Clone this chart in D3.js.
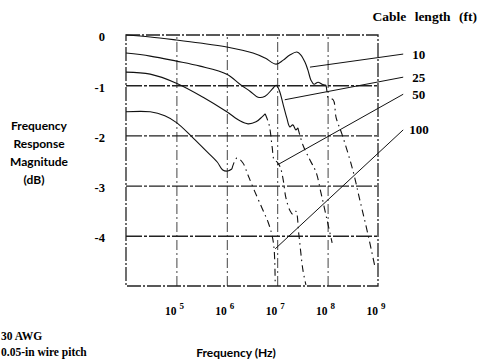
<!DOCTYPE html>
<html>
<head>
<meta charset="utf-8">
<script src="https://cdn.jsdelivr.net/npm/d3@7"></script>
<style>
  body { margin: 0; background: #fff; }
</style>
</head>
<body>
<script>
// ticks
const freqTicks = [1e5, 1e6, 1e7, 1e8, 1e9];
const freqExp = ["5", "6", "7", "8", "9"];
const dbTicks = [0, -1, -2, -3, -4];
const dbLabels = ["0", "-1", "-2", "-3", "-4"];
const cableLengths = ["10", "25", "50", "100"];

// curves, frequency as log10(Hz), magnitude in dB
const logF10 = [4.0, 4.48, 5.0, 5.47, 6.0, 6.52, 6.76, 6.98, 7.12, 7.25, 7.39, 7.47, 7.55, 7.61, 7.67, 7.73, 7.81, 7.89, 7.97,
  7.99, 8.01, 8.11, 8.17, 8.29, 8.5, 8.64, 8.78, 8.94];
const db10 = [0.0, -0.04, -0.1, -0.16, -0.24, -0.36, -0.46, -0.58, -0.5, -0.4, -0.34, -0.4, -0.54, -0.7, -0.9, -0.98, -0.94, -0.98, -1.0,
  -1.14, -1.25, -1.29, -1.65, -1.99, -2.69, -3.29, -3.88, -4.62];

const logF25 = [4.0, 4.48, 5.0, 5.47, 6.0, 6.26, 6.46, 6.62, 6.76, 6.9, 6.98, 7.04, 7.12, 7.19, 7.25, 7.31, 7.37, 7.41,
  7.51, 7.65, 7.77, 7.87, 7.99, 8.09];
const db25 = [-0.36, -0.42, -0.52, -0.62, -0.78, -0.98, -1.12, -1.24, -1.22, -1.08, -1.0, -1.1, -1.39, -1.65, -1.83, -1.79, -1.89, -1.85,
  -2.19, -2.49, -2.73, -3.15, -3.69, -4.14];

const logF50 = [4.0, 4.48, 5.0, 5.53, 6.0, 6.26, 6.42, 6.58, 6.7, 6.76,
  6.84, 6.9, 6.94, 7.0, 7.06, 7.12, 7.17, 7.25, 7.31, 7.37, 7.43, 7.51, 7.57];
const db50 = [-0.74, -0.78, -0.96, -1.24, -1.53, -1.71, -1.77, -1.73, -1.63, -1.57,
  -1.79, -2.23, -2.49, -2.53, -2.63, -2.89, -3.23, -3.49, -3.57, -3.51, -3.98, -4.68, -4.98];

const logF100 = [4.0, 4.48, 4.77, 5.01, 5.31, 5.57, 5.81, 5.92, 6.02, 6.1,
  6.2, 6.32, 6.42, 6.56, 6.7, 6.82, 6.9, 6.94, 6.96];
const db100 = [-1.53, -1.53, -1.61, -1.75, -2.03, -2.29, -2.53, -2.69, -2.71, -2.67,
  -2.45, -2.55, -2.79, -3.13, -3.45, -3.73, -4.0, -4.28, -4.94];

// where each trace turns from solid to broken (log10 Hz)
const solidUntil = [7.97, 7.41, 6.76, 6.1];

// leader lines from the labels to the curves
const labelLogF = 9.5;
const labelDb = [-0.38, -0.84, -1.18, -1.89];
const leaderLogF = [7.65, 7.15, 7.0, 6.96];
const leaderDb = [-0.64, -1.29, -2.59, -4.26];

const curves = [
  { name: "10", f: logF10, db: db10 },
  { name: "25", f: logF25, db: db25 },
  { name: "50", f: logF50, db: db50 },
  { name: "100", f: logF100, db: db100 }
];

const W = 478, H = 363;
const plotL = 126, plotR = 378, plotT = 35, plotB = 286;

const svg = d3.select("body").append("svg")
  .attr("width", W)
  .attr("height", H)
  .style("display", "block");

const x = d3.scaleLog().domain([1e4, 1e9]).range([plotL, plotR]);
const y = d3.scaleLinear().domain([0, -5]).range([plotT, plotB]);

const serif = "'Liberation Serif', 'Times New Roman', serif";
const sans = "Lato, 'Open Sans', sans-serif";

// grid
svg.append("g")
  .attr("transform", `translate(0,${plotB})`)
  .call(d3.axisBottom(x).tickValues(freqTicks.slice(0, 4)).tickSize(-(plotB - plotT)).tickFormat(""))
  .call(g => g.select(".domain").remove())
  .call(g => g.selectAll("line")
    .attr("stroke", "#444")
    .attr("stroke-width", 1)
    .attr("stroke-dasharray", "10,3,2,3"));

svg.append("g")
  .attr("transform", `translate(${plotL},0)`)
  .call(d3.axisLeft(y).tickValues(dbTicks.slice(1)).tickSize(-(plotR - plotL)).tickFormat(""))
  .call(g => g.select(".domain").remove())
  .call(g => g.selectAll("line")
    .attr("stroke", "#222")
    .attr("stroke-width", 1.4)
    .attr("stroke-dasharray", "16,2,3,2"));

// frame
svg.append("rect")
  .attr("x", plotL)
  .attr("y", plotT)
  .attr("width", plotR - plotL)
  .attr("height", plotB - plotT)
  .attr("fill", "none")
  .attr("stroke", "#222")
  .attr("stroke-width", 1.3)
  .attr("stroke-dasharray", "14,2,2,2");

// curves
const line = d3.line()
  .x(d => x(Math.pow(10, d[0])))
  .y(d => y(d[1]))
  .curve(d3.curveCatmullRom.alpha(0.5));

curves.forEach((c, i) => {
  const pts = c.f.map((f, j) => [f, c.db[j]]);
  const solid = pts.filter(p => p[0] <= solidUntil[i]);
  const broken = pts.filter(p => p[0] >= solidUntil[i]);
  svg.append("path")
    .attr("d", line(solid))
    .attr("fill", "none")
    .attr("stroke", "#111")
    .attr("stroke-width", 1.1);
  svg.append("path")
    .attr("d", line(broken))
    .attr("fill", "none")
    .attr("stroke", "#111")
    .attr("stroke-width", 1.1)
    .attr("stroke-dasharray", "7,4,1.5,4");
});

// leaders and labels
cableLengths.forEach((name, i) => {
  svg.append("line")
    .attr("x1", x(Math.pow(10, labelLogF)))
    .attr("y1", y(labelDb[i]))
    .attr("x2", x(Math.pow(10, leaderLogF[i])))
    .attr("y2", y(leaderDb[i]))
    .attr("stroke", "#111")
    .attr("stroke-width", 1);
  svg.append("text")
    .attr("x", x(Math.pow(10, labelLogF)) + (name === "100" ? 6 : 9))
    .attr("y", y(labelDb[i]))
    .attr("dy", "0.35em")
    .attr("font-family", serif)
    .attr("font-weight", "bold")
    .attr("font-size", 13)
    .text(name);
});

svg.append("text")
  .attr("x", 477)
  .attr("y", 21)
  .attr("text-anchor", "end")
  .attr("font-family", serif)
  .attr("font-weight", "bold")
  .attr("font-size", 13.5)
  .attr("word-spacing", 5)
  .text("Cable length (ft)");

// y tick labels
svg.append("g")
  .selectAll("text")
  .data(dbTicks)
  .join("text")
  .attr("x", 105)
  .attr("y", d => y(d) + 2)
  .attr("dy", "0.35em")
  .attr("text-anchor", "end")
  .attr("font-family", serif)
  .attr("font-weight", "bold")
  .attr("font-size", 12.5)
  .text((d, i) => dbLabels[i]);

// x tick labels with exponents
const xl = svg.append("g")
  .selectAll("text")
  .data(freqTicks)
  .join("text")
  .attr("x", d => x(d) - 2)
  .attr("y", 315)
  .attr("text-anchor", "middle")
  .attr("font-family", serif)
  .attr("font-weight", "bold")
  .attr("font-size", 11.5);
xl.append("tspan").text("10");
xl.append("tspan")
  .attr("dx", 3)
  .attr("dy", -6)
  .attr("font-size", 9)
  .text((d, i) => freqExp[i]);

// y axis title
const yTitle = ["Frequency", "Response", "Magnitude", "(dB)"];
svg.append("g")
  .selectAll("text")
  .data(yTitle)
  .join("text")
  .attr("x", (d, i) => i === 3 ? 34 : 39)
  .attr("y", (d, i) => 130 + i * 18)
  .attr("text-anchor", "middle")
  .attr("font-family", sans)
  .attr("font-weight", "bold")
  .attr("font-size", 12)
  .text(d => d);

svg.append("text")
  .attr("x", 236)
  .attr("y", 357)
  .attr("text-anchor", "middle")
  .attr("font-family", sans)
  .attr("font-weight", "bold")
  .attr("font-size", 12)
  .text("Frequency (Hz)");

svg.append("text")
  .attr("x", 1)
  .attr("y", 340)
  .attr("font-family", serif)
  .attr("font-weight", "bold")
  .attr("font-size", 11.5)
  .text("30 AWG");

svg.append("text")
  .attr("x", 1)
  .attr("y", 356)
  .attr("font-family", serif)
  .attr("font-weight", "bold")
  .attr("font-size", 11.5)
  .text("0.05-in wire pitch");
</script>
</body>
</html>
